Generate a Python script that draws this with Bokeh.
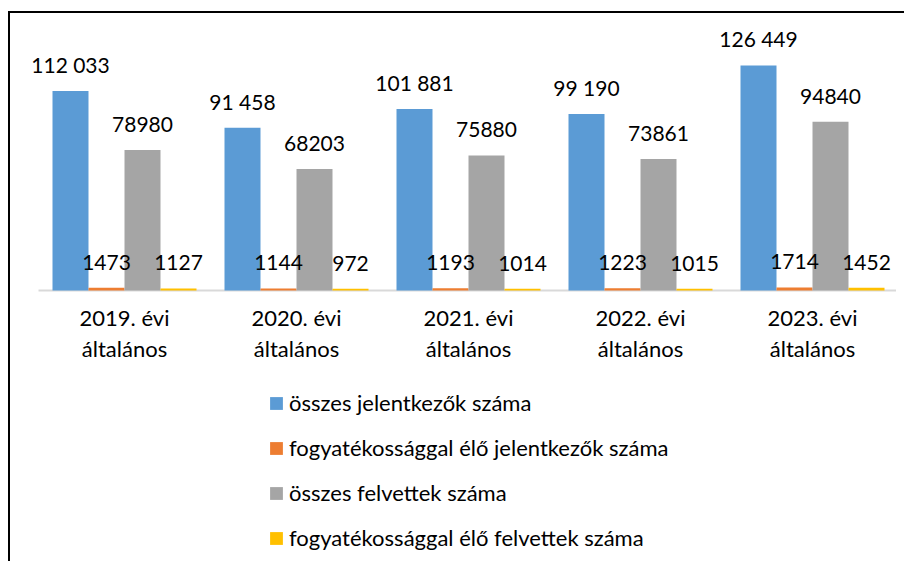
from bokeh.plotting import figure
from bokeh.models import (FactorRange, Range1d, ColumnDataSource, Legend, LegendItem,
                          LabelSet)
from bokeh.transform import dodge
from bokeh.core.properties import value
from bokeh.embed import file_html
from bokeh.resources import INLINE

categories = ["2019. évi\náltalános", "2020. évi\náltalános", "2021. évi\náltalános",
              "2022. évi\náltalános", "2023. évi\náltalános"]
osszes_jelentkezok = [112033, 91458, 101881, 99190, 126449]
fogy_jelentkezok = [1473, 1144, 1193, 1223, 1714]
osszes_felvettek = [78980, 68203, 75880, 73861, 94840]
fogy_felvettek = [1127, 972, 1014, 1015, 1452]
series_names = ["összes jelentkezők száma",
                "fogyatékossággal élő jelentkezők száma",
                "összes felvettek száma",
                "fogyatékossággal élő felvettek száma"]
colors = ["#5B9BD5", "#ED7D31", "#A5A5A5", "#FFC000"]

FONT = "Lato"

series = [osszes_jelentkezok, fogy_jelentkezok, osszes_felvettek, fogy_felvettek]
labels = [
    [f"{v:,}".replace(",", " ") for v in osszes_jelentkezok],
    [str(v) for v in fogy_jelentkezok],
    [str(v) for v in osszes_felvettek],
    [str(v) for v in fogy_felvettek],
]

# vertical scale: ~561.8 units per pixel, zero line 277 px below the top
Y_TOP = 155600
Y_BOTTOM = -153400

p = figure(x_range=FactorRange(*categories, range_padding=0.0186),
           y_range=Range1d(Y_BOTTOM, Y_TOP),
           width=896, height=550,
           output_backend="svg", toolbar_location=None,
           x_axis_location=None, y_axis_location=None,
           min_border_left=20, min_border_right=0, min_border_top=0, min_border_bottom=0)
p.styles = {"border-left": "2px solid black", "border-top": "2px solid black",
            "margin-top": "11px", "margin-left": "8px", "padding-right": "8px"}
p.outline_line_color = None
p.grid.visible = False
p.background_fill_color = "white"
p.border_fill_color = "white"

# category axis baseline
base_src = ColumnDataSource(dict(c0=[categories[0]], c1=[categories[-1]], y=[0]))
p.segment(x0=dodge("c0", -0.5, range=p.x_range), x1=dodge("c1", 0.5, range=p.x_range),
          y0="y", y1="y", source=base_src, line_color="#D9D9D9", line_width=2)

w = 36 / 172
offsets = [-1.5 * w, -0.5 * w, 0.5 * w, 1.5 * w]
items = []
sources = []
for vals, labs, name, col, off in zip(series, labels, series_names, colors, offsets):
    src = ColumnDataSource(dict(cat=categories, v=vals, lab=labs))
    sources.append((src, off))
    r = p.vbar(x=dodge("cat", off, range=p.x_range), top="v", width=w, source=src,
               fill_color=col, line_color=None)
    items.append(LegendItem(label=name, renderers=[r]))

for src, off in sources:
    p.add_layout(LabelSet(x=dodge("cat", off, range=p.x_range), y="v", text="lab", source=src,
                          text_align="center", text_baseline="alphabetic", y_offset=18,
                          text_font=value(FONT), text_font_size="21px", text_color="#000000"))

cat_src = ColumnDataSource(dict(cat=categories, y=[0] * len(categories)))
p.text(x="cat", y="y", text="cat", source=cat_src, text_align="center", text_baseline="top",
       y_offset=14, text_font=value(FONT), text_font_size="22px", text_color="#000000",
       text_line_height=1.13)

legend = Legend(items=items, orientation="vertical", location=(238, 12),
                border_line_color=None, background_fill_alpha=0,
                label_text_font=FONT, label_text_font_size="22px", label_text_color="#000000",
                glyph_width=16, glyph_height=16, label_standoff=5,
                spacing=18, label_height=21, padding=0, margin=0)
p.add_layout(legend)

open("out.html", "w").write(file_html(p, INLINE))
